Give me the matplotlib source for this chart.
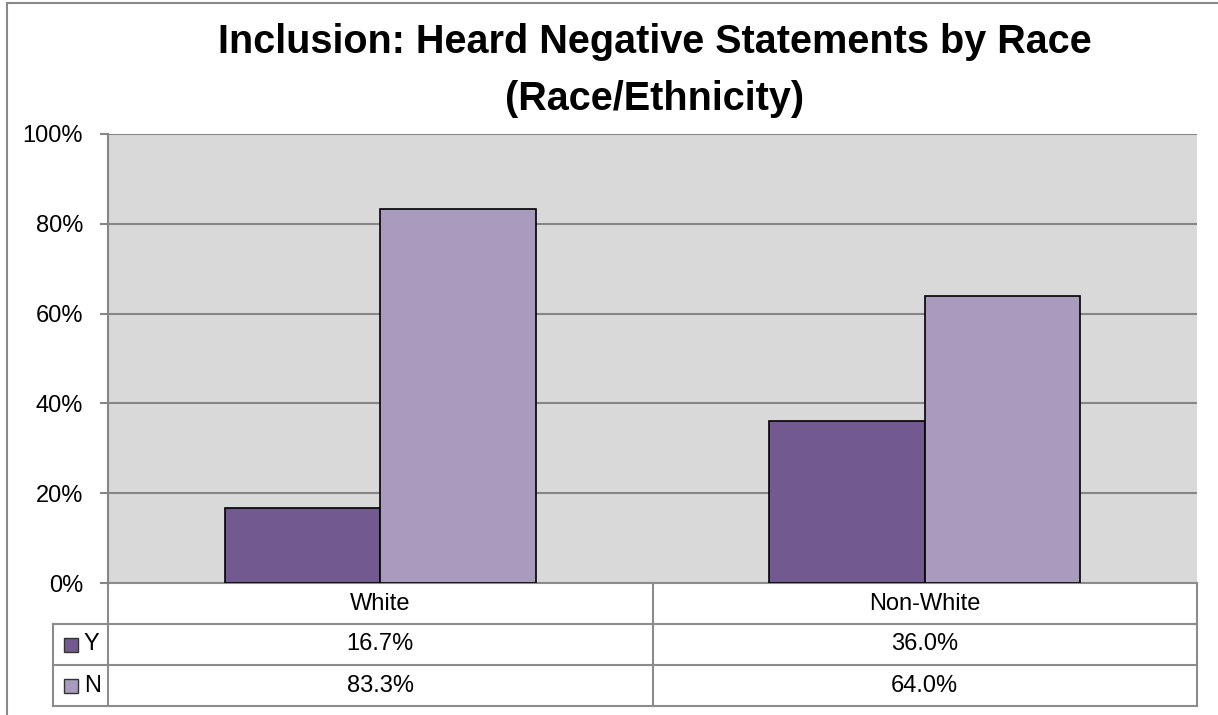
import matplotlib.pyplot as plt
import numpy as np
from matplotlib.patches import Rectangle

plt.rcParams["font.family"] = ["Liberation Sans", "DejaVu Sans"]

categories = ["White", "Non-White"]
series = ["Y", "N"]
y_vals = [16.7, 36.0]
n_vals = [83.3, 64.0]
colors = ["#725990", "#A99BBD"]
title_lines = ["Inclusion: Heard Negative Statements by Race", "(Race/Ethnicity)"]

W, H = 1218, 715
fig = plt.figure(figsize=(W / 100, H / 100), dpi=100)

# outer chart frame (cropped at right/bottom)
fig.patches.append(Rectangle((7 / W, -0.1), 1.2, 1 - 3 / H + 0.1, transform=fig.transFigure,
                             fill=False, edgecolor="#898989", linewidth=1.5))

left, right, top, bottom = 108, 1197, 134, 583
ax = fig.add_axes([left / W, 1 - bottom / H, (right - left) / W, (bottom - top) / H])
ax.set_facecolor("#D9D9D9")

x = np.arange(len(categories))
bw = 1 / 3.5
ax.bar(x - bw / 2, y_vals, bw, color=colors[0], edgecolor="black", linewidth=1.2, zorder=3)
ax.bar(x + bw / 2, n_vals, bw, color=colors[1], edgecolor="black", linewidth=1.2, zorder=3)

ax.set_xlim(-0.5, len(categories) - 0.5)
ax.set_ylim(0, 100)
ax.set_yticks(np.arange(0, 101, 20))
ax.set_yticklabels([f"{v}%" for v in range(0, 101, 20)], fontsize=17)
ax.set_xticks([])
ax.grid(axis="y", color="#868686", linewidth=1.5, zorder=1)
ax.tick_params(axis="y", length=6, width=1.5, color="#868686", pad=12)
for s in ["top", "right", "bottom"]:
    ax.spines[s].set_visible(False)
ax.spines["left"].set_color("#868686")
ax.spines["left"].set_linewidth(1.5)

# data table below the plot
ph = bottom - top
rh = 41 / ph
lc = -55 / (right - left)
lkw = dict(transform=ax.transAxes, color="#8C8C8C", linewidth=1.5, clip_on=False)
n = len(categories)
ax.plot([0, 1], [0, 0], **lkw)
for i in range(1, 4):
    ax.plot([lc, 1], [-i * rh, -i * rh], **lkw)
for j in range(n + 1):
    ax.plot([j / n, j / n], [0, -3 * rh], **lkw)
ax.plot([lc, lc], [-rh, -3 * rh], **lkw)

tkw = dict(transform=ax.transAxes, ha="center", va="center", fontsize=17, clip_on=False)
for j, c in enumerate(categories):
    ax.text((j + 0.5) / n, -0.5 * rh, c, **tkw)
    ax.text((j + 0.5) / n, -1.5 * rh, f"{y_vals[j]:.1f}%", **tkw)
    ax.text((j + 0.5) / n, -2.5 * rh, f"{n_vals[j]:.1f}%", **tkw)

sq = 14
for i, (s, col) in enumerate(zip(series, colors)):
    yc = bottom + (i + 1.5) * 41
    fig.patches.append(Rectangle((64 / W, 1 - (yc + sq / 2) / H), sq / W, sq / H,
                                 transform=fig.transFigure, facecolor=col,
                                 edgecolor="#333333", linewidth=1))
    fig.text(84 / W, 1 - yc / H, s, ha="left", va="center", fontsize=17)

fig.text(655 / W, 1 - 42 / H, title_lines[0], ha="center", va="center",
         fontsize=28.5, fontweight="bold")
fig.text(655 / W, 1 - 99 / H, title_lines[1], ha="center", va="center",
         fontsize=28.5, fontweight="bold")

fig.savefig("out.png", dpi=100)
